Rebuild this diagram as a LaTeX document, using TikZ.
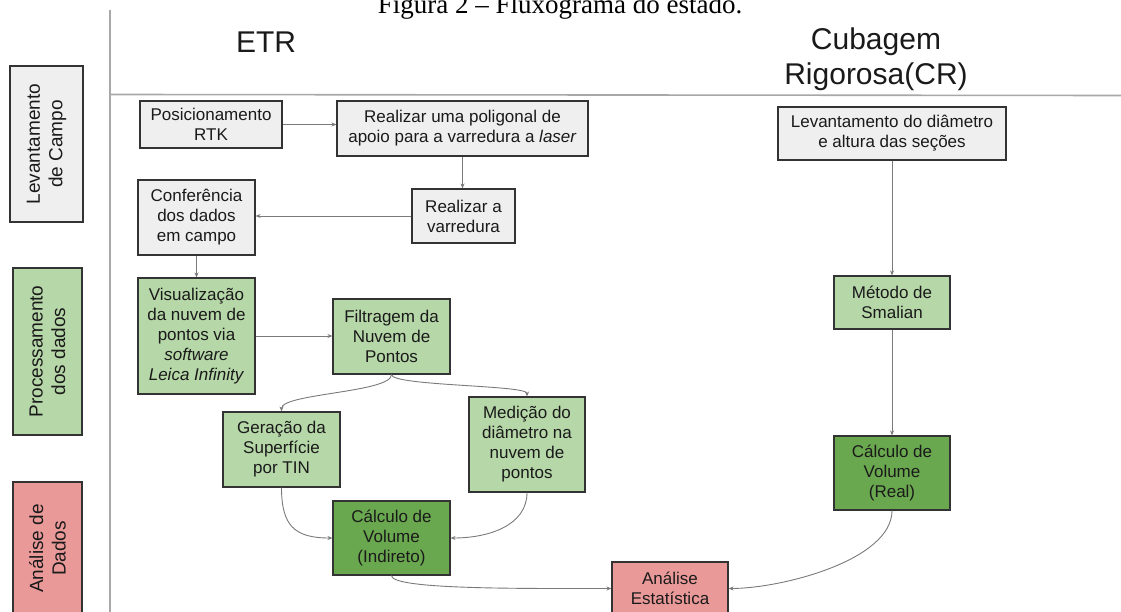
\documentclass[tikz,border=0pt]{standalone}
\usepackage{fontspec}
\setmainfont{Liberation Sans}
\newfontfamily\capfont{Liberation Serif}
\usetikzlibrary{arrows.meta}
\definecolor{boxgrey}{HTML}{EFEFEF}
\definecolor{lgreen}{HTML}{B6D7A8}
\definecolor{dgreen}{HTML}{6AA84F}
\definecolor{lpink}{HTML}{EA9999}
\definecolor{edgecol}{HTML}{7A7A7A}
\definecolor{bordercol}{HTML}{333333}
\definecolor{txt}{HTML}{1A1A1A}
\definecolor{sepcol}{HTML}{A8A8A8}
\begin{document}
\begin{tikzpicture}[x=1pt,y=-1pt,
  sz/.style 2 args={minimum width=#1pt, minimum height=#2pt},
  box/.style={draw=bordercol, line width=1.1pt, rectangle, inner sep=0pt, align=center, text=txt, font=\fontsize{17}{20}\selectfont},
  greybox/.style={box, fill=boxgrey},
  lgbox/.style={box, fill=lgreen},
  dgbox/.style={box, fill=dgreen},
  pkbox/.style={box, fill=lpink},
  lane/.style={draw=bordercol, line width=1.1pt, rectangle, inner sep=0pt, align=center, text=txt, rotate=90, font=\fontsize{19}{22.5}\selectfont},
  conn/.style={draw=edgecol, line width=0.9pt, -{Stealth[length=5pt,width=4pt]}},
  sepline/.style={draw=sepcol, line width=1.6pt},
  title/.style={text=txt, align=center, font=\fontsize{30}{34.5}\selectfont}
]
\useasboundingbox (0,0) rectangle (1121,612);

% caption (cut at top, as in the reference)
\node[font=\capfont\fontsize{27}{30}\selectfont, anchor=base, text=black, inner sep=0pt] (cap) at (560,14) {Figura 2 – Fluxograma do estado.};

% separators
\coordinate (vtop) at (110,10);
\coordinate (vbot) at (110,612);
\coordinate (hl) at (110,94.5);
\coordinate (hr) at (1121,95.5);
\draw[sepline] (vtop) -- (vbot);
\draw[sepline] (hl) -- (hr);

% titles
\node[title] (etr) at (266,42) {ETR};
\node[title] (cr) at (876,59) {Cubagem\\Rigorosa(CR)};

% lanes
\node[lane, fill=boxgrey, sz={156}{73}] (lane1) at (46.5,144) {Levantamento\\de Campo};
\node[lane, fill=lgreen, sz={167}{69}] (lane2) at (47.5,351.5) {Processamento\\dos dados};
\node[lane, fill=lpink, sz={133}{69}] (lane3) at (47.5,548.5) {Análise de\\Dados};

% boxes
\node[greybox, sz={142}{47}] (posi) at (211,124.5) {Posicionamento\\RTK};
\node[greybox, sz={251}{55}] (poli) at (462.5,128.5) {Realizar uma poligonal de\\apoio para a varredura a \textit{laser}};
\node[greybox, sz={228}{53}] (levd) at (892,133.5) {Levantamento do diâmetro\\e altura das seções};
\node[greybox, sz={117}{75}] (conf) at (196.5,217.5) {Conferência\\dos dados\\em campo};
\node[greybox, sz={103}{54}] (varr) at (463.5,216) {Realizar a\\varredura};
\node[lgbox, sz={117}{116}] (visu) at (196.5,336) {Visualização\\da nuvem de\\pontos via\\\textit{software}\\\textit{Leica Infinity}};
\node[lgbox, sz={117}{75}] (filt) at (391.5,336.5) {Filtragem da\\Nuvem de\\Pontos};
\node[lgbox, sz={117}{75}] (gera) at (281.5,449.5) {Geração da\\Superfície\\por TIN};
\node[lgbox, sz={116}{95}] (medi) at (527,444.5) {Medição do\\diâmetro na\\nuvem de\\pontos};
\node[dgbox, sz={117}{74}] (calci) at (391.5,538) {Cálculo de\\Volume\\(Indireto)};
\node[lgbox, sz={116}{53}] (smal) at (892,302.5) {Método de\\Smalian};
\node[dgbox, sz={116}{74}] (calcr) at (892,473) {Cálculo de\\Volume\\(Real)};
\node[pkbox, sz={116}{53}] (anal) at (670,588.5) {Análise\\Estatística};

% connectors
\draw[conn] (posi.east) -- (posi.east -| poli.west);
\draw[conn] (poli.south) -- (poli.south |- varr.north);
\draw[conn] (varr.west) -- (varr.west -| conf.east);
\draw[conn] (conf.south) -- (visu.north);
\draw[conn] (visu.east) -- (visu.east -| filt.west);
\draw[conn] (filt.south) .. controls +(0,18) and +(0,-18) .. (gera.north);
\draw[conn] (filt.south) .. controls +(0,11.5) and +(0,-11.5) .. (medi.north);
\draw[conn] (gera.south) .. controls +(0,38) and +(-38,0) .. (calci.west);
\draw[conn] (medi.south) .. controls +(0,33) and +(38,0) .. (calci.east);
\draw[conn] (calci.south) .. controls +(0,14) and +(-92,0) .. (anal.west);
\draw[conn] (levd.south) -- (smal.north);
\draw[conn] (smal.south) -- (calcr.north);
\draw[conn] (calcr.south) .. controls +(0,50) and +(52,0) .. (anal.east);
\end{tikzpicture}
\end{document}
